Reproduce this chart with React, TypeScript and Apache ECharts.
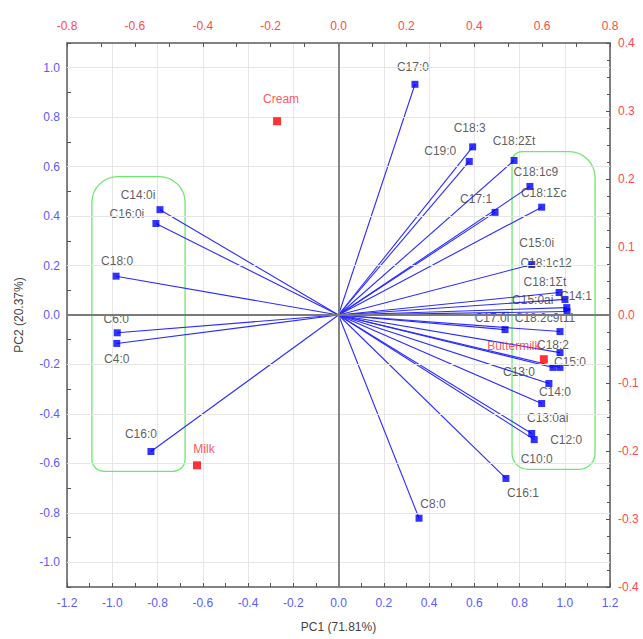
import React, { useEffect, useRef } from 'react';
import * as echarts from 'echarts';

// Variable loadings (bottom / left axes)
const loadingNames = [
  'C17:0', 'C18:3', 'C19:0', 'C18:2Σt', 'C18:1c9', 'C18:1Σc', 'C17:1',
  'C15:0i', 'C18:1c12', 'C18:1Σt', 'C15:0ai', 'C14:1', 'C17:0i', 'C18:2c9t11',
  'C18:2', 'C15:0', 'C13:0', 'C14:0', 'C13:0ai', 'C12:0', 'C10:0', 'C16:1', 'C8:0',
  'C14:0i', 'C16:0i', 'C18:0', 'C6:0', 'C4:0', 'C16:0',
];
const loadingPc1 = [
  0.338, 0.593, 0.578, 0.776, 0.846, 0.898, 0.692,
  0.854, 0.975, 1.001, 1.009, 1.010, 0.736, 0.979,
  0.979, 0.979, 0.948, 0.930, 0.898, 0.865, 0.854, 0.740, 0.356,
  -0.789, -0.807, -0.983, -0.978, -0.980, -0.829,
];
const loadingPc2 = [
  0.933, 0.680, 0.621, 0.625, 0.520, 0.436, 0.415,
  0.204, 0.091, 0.063, 0.030, 0.014, -0.059, -0.067,
  -0.152, -0.212, -0.212, -0.277, -0.358, -0.504, -0.479, -0.661, -0.822,
  0.426, 0.370, 0.157, -0.072, -0.115, -0.552,
];

// Sample scores (top / right axes)
const sampleNames = ['Cream', 'Milk', 'Buttermilk'];
const samplePc1 = [-0.181, -0.417, 0.605];
const samplePc2 = [0.285, -0.221, -0.065];

// Axis ticks
const pc1TickValues = [-1.2, -1.0, -0.8, -0.6, -0.4, -0.2, 0, 0.2, 0.4, 0.6, 0.8, 1.0, 1.2];
const pc2GridValues = [-1.0, -0.8, -0.6, -0.4, -0.2, 0.2, 0.4, 0.6, 0.8, 1.0];

// Group outlines (in loading coordinates)
const boxPc1Min = [-1.09, 0.767];
const boxPc1Max = [-0.678, 1.134];
const boxPc2Min = [-0.632, -0.624];
const boxPc2Max = [0.56, 0.661];

// label placement (style only)
const loadingLabelOffsets: Record<string, [number, number]> = {
  'C17:0': [-2, -17], 'C18:3': [-3, -19], 'C19:0': [-29, -10], 'C18:2Σt': [0, -19],
  'C18:1c9': [6, -14], 'C18:1Σc': [2, -14], 'C17:1': [-19, -13], 'C15:0i': [5, -22],
  'C18:1c12': [-13, -29], 'C18:1Σt': [-20, -17], 'C15:0ai': [-34, -8], 'C14:1': [9, -16],
  'C17:0i': [-13, -12], 'C18:2c9t11': [-15, -14], 'C18:2': [-7, -8], 'C15:0': [10, -5],
  'C13:0': [-34, 5], 'C14:0': [6, 9], 'C13:0ai': [6, 14], 'C12:0': [32, 0],
  'C10:0': [5, 26], 'C16:1': [17, 15], 'C8:0': [14, -14], 'C14:0i': [-22, -15],
  'C16:0i': [-29, -10], 'C18:0': [1, -15], 'C6:0': [-1, -14], 'C4:0': [0, 16], 'C16:0': [-10, -17],
};
const sampleLabelOffsets: Record<string, [number, number]> = {
  Cream: [4, -22], Milk: [7, -16], Buttermilk: [-30, -13],
};

const FONT = '"Liberation Sans", Arial, sans-serif';
const BLUE_TXT = '#5a5aff';
const RED_TXT = '#ff4a4a';

const fmt = (v: number) => (Math.abs(v) < 1e-9 ? '0.0' : v.toFixed(1));

export default function App() {
  const ref = useRef<HTMLDivElement>(null);
  useEffect(() => {
    if (!ref.current) return;
    const chart = echarts.init(ref.current, null, { renderer: 'svg' });
    const axisLine = { show: true, onZero: false, lineStyle: { color: '#5a5a5a', width: 1.5 } };
    const option: any = {
      animation: false,
      backgroundColor: '#ffffff',
      grid: {
        left: 67, right: 33, top: 43, bottom: 52,
        containLabel: false, outerBoundsMode: 'none',
      },
      xAxis: [
        {
          type: 'value', position: 'bottom', min: pc1TickValues[0], max: pc1TickValues[pc1TickValues.length - 1], interval: 0.2,
          axisLine,
          axisTick: { show: true, inside: true, length: 4, lineStyle: { color: '#555' } },
          minorTick: { show: true, splitNumber: 2, length: 4, lineStyle: { color: '#555' } },
          axisLabel: { color: BLUE_TXT, fontSize: 12, fontFamily: FONT, margin: 10, formatter: fmt },
          splitLine: { show: true, lineStyle: { color: '#e6e6e6', width: 1 } },
          name: 'PC1 (71.81%)', nameLocation: 'middle', nameGap: 34,
          nameTextStyle: { color: '#444', fontSize: 12, fontFamily: FONT },
        },
        {
          type: 'value', position: 'top', min: -0.8, max: 0.8, interval: 0.2,
          axisLine,
          axisTick: { show: true, inside: true, length: 4, lineStyle: { color: '#555' } },
          minorTick: { show: true, splitNumber: 2, length: 4, lineStyle: { color: '#555' } },
          axisLabel: { color: RED_TXT, fontSize: 12, fontFamily: FONT, margin: 11, formatter: fmt },
          splitLine: { show: false },
        },
      ],
      yAxis: [
        {
          type: 'value', position: 'left', min: -1.1, max: 1.1, interval: 0.1,
          axisLine,
          axisTick: { show: true, inside: true, length: 4, lineStyle: { color: '#555' } },
          axisLabel: {
            color: BLUE_TXT, fontSize: 12, fontFamily: FONT, margin: 7,
            formatter: (v: number) => {
              const k = Math.round(v * 10);
              return k % 2 === 0 ? fmt(k / 10) : '';
            },
          },
          splitLine: { show: false },
          name: 'PC2 (20.37%)', nameLocation: 'middle', nameGap: 42,
          nameTextStyle: { color: '#444', fontSize: 12, fontFamily: FONT },
        },
        {
          type: 'value', position: 'right', min: -0.4, max: 0.4, interval: 0.1,
          axisLine,
          axisTick: { show: true, inside: true, length: 4, lineStyle: { color: '#555' } },
          minorTick: { show: true, splitNumber: 4, length: 3, lineStyle: { color: '#555' } },
          axisLabel: { color: RED_TXT, fontSize: 12, fontFamily: FONT, margin: 8, formatter: fmt },
          splitLine: { show: false },
        },
      ],
      series: [
        {
          type: 'scatter', xAxisIndex: 0, yAxisIndex: 0, data: [], z: 1, silent: true,
          markLine: {
            silent: true, symbol: ['none', 'none'], label: { show: false },
            data: [
              ...pc2GridValues.map((v) => ({ yAxis: v, lineStyle: { color: '#e6e6e6', width: 1, type: 'solid' } })),
              { yAxis: 0, lineStyle: { color: '#7a7a7a', width: 1.8, type: 'solid' } },
              { xAxis: 0, lineStyle: { color: '#7a7a7a', width: 1.8, type: 'solid' } },
            ],
          },
        },
        {
          type: 'custom', xAxisIndex: 0, yAxisIndex: 0, z: 2, silent: true,
          data: boxPc1Min.map((x0, i) => [x0, boxPc1Max[i], boxPc2Min[i], boxPc2Max[i]]),
          encode: { x: [0, 1], y: [2, 3] },
          renderItem: (params: any, api: any) => {
            const tl = api.coord([api.value(0), api.value(3)]);
            const br = api.coord([api.value(1), api.value(2)]);
            const r = params.dataIndex === 0 ? [26, 26, 12, 12] : [10, 26, 16, 16];
            return {
              type: 'rect',
              shape: { x: tl[0], y: tl[1], width: br[0] - tl[0], height: br[1] - tl[1], r },
              style: { fill: 'none', stroke: '#6ee86e', lineWidth: 1.3 },
            };
          },
        },
        {
          type: 'lines', coordinateSystem: 'cartesian2d', xAxisIndex: 0, yAxisIndex: 0, z: 3, silent: true,
          lineStyle: { color: '#2b2bff', width: 1.1, opacity: 1 },
          data: loadingPc1.map((x, i) => ({ coords: [[0, 0], [x, loadingPc2[i]]] })),
        },
        {
          type: 'scatter', xAxisIndex: 0, yAxisIndex: 0, z: 4, symbol: 'rect', symbolSize: 7,
          itemStyle: { color: '#0000ff' },
          label: { show: true, position: 'inside', color: '#333333', fontSize: 12, fontFamily: FONT, formatter: '{b}' },
          labelLayout: (p: any) => {
            const off = loadingLabelOffsets[loadingNames[p.dataIndex]] || [0, -15];
            return { dx: off[0], dy: off[1], hideOverlap: false };
          },
          data: loadingNames.map((n, i) => ({ name: n, value: [loadingPc1[i], loadingPc2[i]] })),
        },
        {
          type: 'scatter', xAxisIndex: 1, yAxisIndex: 1, z: 5, symbol: 'rect', symbolSize: 8,
          itemStyle: { color: '#ff0000' },
          label: { show: true, position: 'inside', color: '#ff2a2a', fontSize: 12, fontFamily: FONT, formatter: '{b}' },
          labelLayout: (p: any) => {
            const off = sampleLabelOffsets[sampleNames[p.dataIndex]] || [0, -15];
            return { dx: off[0], dy: off[1], hideOverlap: false };
          },
          data: sampleNames.map((n, i) => ({ name: n, value: [samplePc1[i], samplePc2[i]] })),
        },
      ],
    };
    chart.setOption(option);
    return () => chart.dispose();
  }, []);
  return (
    <div
      ref={ref}
      style={{ position: 'fixed', left: 0, top: 0, width: 643, height: 639, background: '#fff' }}
    />
  );
}
